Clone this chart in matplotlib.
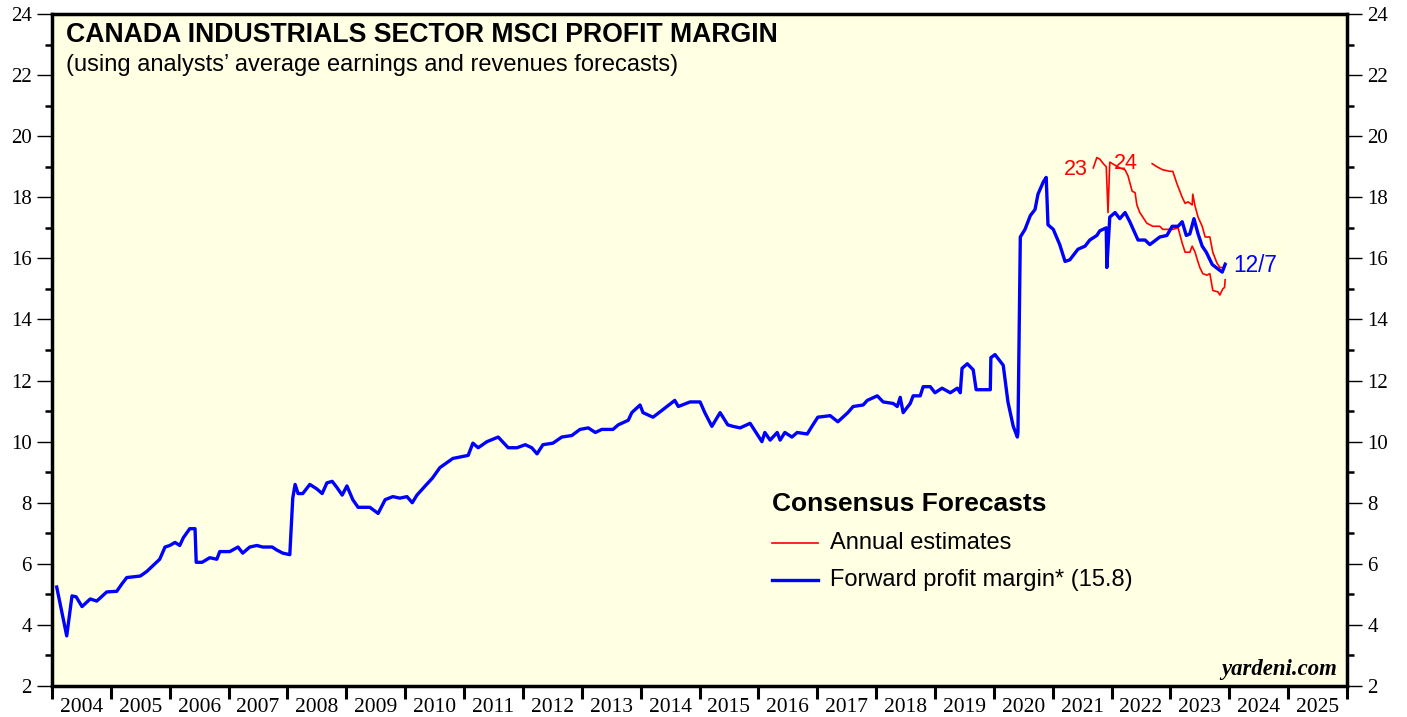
import matplotlib.pyplot as plt
import numpy as np

# Forward profit margin (weekly), decimal years
fwd_years = [2004.08, 2004.25, 2004.34, 2004.41, 2004.51, 2004.65, 2004.76, 2004.93, 2005.10, 2005.19,
             2005.27, 2005.50, 2005.61, 2005.83, 2005.92, 2006.00, 2006.09, 2006.17, 2006.23, 2006.34,
             2006.43, 2006.45, 2006.55, 2006.68, 2006.80, 2006.85, 2007.02, 2007.16, 2007.24, 2007.36,
             2007.48, 2007.58, 2007.74, 2007.82, 2007.92, 2008.04, 2008.09, 2008.13, 2008.18, 2008.26,
             2008.38, 2008.50, 2008.59, 2008.67, 2008.76, 2008.84, 2008.93, 2009.01, 2009.11, 2009.20,
             2009.40, 2009.54, 2009.66, 2009.79, 2009.91, 2010.03, 2010.12, 2010.20, 2010.34, 2010.46,
             2010.59, 2010.81, 2011.07, 2011.15, 2011.24, 2011.39, 2011.58, 2011.75, 2011.90, 2012.04,
             2012.15, 2012.24, 2012.34, 2012.51, 2012.66, 2012.83, 2012.97, 2013.11, 2013.23, 2013.34,
             2013.53, 2013.62, 2013.79, 2013.85, 2013.99, 2014.04, 2014.21, 2014.38, 2014.58, 2014.64,
             2014.84, 2015.01, 2015.09, 2015.21, 2015.35, 2015.48, 2015.57, 2015.69, 2015.86, 2016.06,
             2016.11, 2016.20, 2016.32, 2016.37, 2016.45, 2016.57, 2016.66, 2016.83, 2016.91, 2017.01,
             2017.22, 2017.35, 2017.52, 2017.61, 2017.78, 2017.85, 2018.02, 2018.12, 2018.29, 2018.36,
             2018.41, 2018.46, 2018.58, 2018.63, 2018.75, 2018.80, 2018.92, 2019.00, 2019.12, 2019.26,
             2019.38, 2019.43, 2019.46, 2019.55, 2019.65, 2019.70, 2019.82, 2019.94, 2019.95, 2020.02,
             2020.16, 2020.24, 2020.33, 2020.40, 2020.41, 2020.45, 2020.53, 2020.62, 2020.70, 2020.75,
             2020.84, 2020.89, 2020.92, 2021.01, 2021.12, 2021.21, 2021.29, 2021.43, 2021.55, 2021.63,
             2021.75, 2021.80, 2021.91, 2021.92, 2021.97, 2022.06, 2022.14, 2022.23, 2022.31, 2022.45,
             2022.57, 2022.65, 2022.82, 2022.94, 2023.03, 2023.13, 2023.20, 2023.27, 2023.33, 2023.40,
             2023.47, 2023.54, 2023.61, 2023.71, 2023.81, 2023.88, 2023.93]
fwd_margin = [5.24, 3.64, 4.95, 4.92, 4.6, 4.85, 4.78, 5.08, 5.1, 5.35,
              5.55, 5.6, 5.75, 6.15, 6.55, 6.6, 6.7, 6.6, 6.85, 7.15,
              7.15, 6.05, 6.05, 6.2, 6.15, 6.4, 6.4, 6.55, 6.35, 6.55,
              6.6, 6.55, 6.55, 6.45, 6.35, 6.3, 8.15, 8.6, 8.3, 8.3,
              8.6, 8.45, 8.3, 8.65, 8.7, 8.5, 8.25, 8.55, 8.1, 7.85,
              7.85, 7.65, 8.1, 8.2, 8.15, 8.2, 8.0, 8.25, 8.55, 8.8,
              9.15, 9.45, 9.55, 9.95, 9.8, 10.0, 10.15, 9.8, 9.8, 9.9,
              9.8, 9.6, 9.9, 9.95, 10.15, 10.2, 10.4, 10.45, 10.3, 10.4,
              10.4, 10.55, 10.7, 10.95, 11.2, 10.95, 10.8, 11.05, 11.35, 11.15,
              11.3, 11.3, 10.95, 10.5, 10.95, 10.55, 10.5, 10.45, 10.6, 10.0,
              10.3, 10.05, 10.3, 10.05, 10.3, 10.15, 10.3, 10.25, 10.5, 10.8,
              10.85, 10.65, 10.95, 11.15, 11.2, 11.35, 11.5, 11.3, 11.25, 11.15,
              11.45, 10.95, 11.25, 11.5, 11.5, 11.8, 11.8, 11.6, 11.75, 11.6,
              11.75, 11.6, 12.4, 12.55, 12.35, 11.7, 11.7, 11.7, 12.75, 12.85,
              12.5, 11.3, 10.5, 10.15, 10.3, 16.7, 16.95, 17.4, 17.6, 18.1,
              18.5, 18.65, 17.1, 16.95, 16.45, 15.9, 15.95, 16.3, 16.4, 16.6,
              16.75, 16.9, 17.0, 15.7, 17.35, 17.5, 17.3, 17.5, 17.2, 16.6,
              16.6, 16.45, 16.7, 16.75, 17.05, 17.05, 17.2, 16.75, 16.8, 17.3,
              16.8, 16.4, 16.2, 15.8, 15.65, 15.55, 15.8]

# Annual estimates for 2023
est23_years = [2021.69, 2021.75, 2021.80, 2021.86, 2021.91, 2021.94, 2021.97, 2022.06, 2022.14, 2022.23,
               2022.28, 2022.35, 2022.40, 2022.43, 2022.48, 2022.60, 2022.70, 2022.82, 2022.87, 2023.04,
               2023.13, 2023.20, 2023.25, 2023.33, 2023.37, 2023.42, 2023.45, 2023.50, 2023.55, 2023.62,
               2023.67, 2023.72, 2023.81, 2023.84, 2023.89, 2023.92, 2023.93]
est23 = [18.96, 19.3, 19.25, 19.1, 19.0, 17.5, 19.15, 19.05, 18.96, 18.9,
         18.7, 18.2, 18.15, 17.75, 17.5, 17.15, 17.05, 17.05, 16.95, 16.95,
         17.0, 16.5, 16.2, 16.2, 16.4, 16.2, 16.0, 15.7, 15.5, 15.45,
         15.5, 14.95, 14.9, 14.8, 15.0, 15.05, 15.3]

# Annual estimates for 2024
est24_years = [2022.69, 2022.77, 2022.87, 2022.99, 2023.04, 2023.11, 2023.20, 2023.25, 2023.30, 2023.37,
               2023.38, 2023.42, 2023.47, 2023.54, 2023.59, 2023.67, 2023.72, 2023.79, 2023.84, 2023.90,
               2023.93]
est24 = [19.1, 19.0, 18.9, 18.85, 18.85, 18.45, 18.0, 17.8, 17.85, 17.75,
         18.1, 17.7, 17.35, 17.05, 16.7, 16.7, 16.2, 15.85, 15.7, 15.7,
         15.85]

years = list(range(2004, 2026))

fig = plt.figure(figsize=(14.07, 7.17), dpi=100)
ax = fig.add_axes([52 / 1407, 31 / 717, 1295 / 1407, 672 / 717])
ax.set_facecolor('#ffffe3')

ax.plot(est23_years, est23, color='#ff0000', lw=1.2, zorder=2)
ax.plot(est24_years, est24, color='#ff0000', lw=1.2, zorder=2)
ax.plot(fwd_years, fwd_margin, color='#0000ff', lw=2.4, zorder=3)

ax.set_xlim(2004, 2026)
ax.set_ylim(2, 24)

serif = 'Liberation Serif'
sans = 'Liberation Sans'

# x axis: boundaries as major ticks, year labels centred between them
ax.set_xticks(years + [2026])
ax.set_xticklabels([])
ax.set_xticks([y + 0.5 for y in years], minor=True)
ax.set_xticklabels([str(y) for y in years], minor=True, fontfamily=serif, fontsize=15.5)
ax.tick_params(axis='x', which='major', direction='out', length=9, width=2.2, color='black')
ax.tick_params(axis='x', which='minor', length=0, pad=9)

# y axis on both sides
ax.set_yticks(np.arange(2, 25, 2))
ax.set_yticks(np.arange(3, 24, 2), minor=True)
ax.tick_params(axis='y', which='major', direction='out', length=11, width=1,
               left=True, right=True, labelleft=True, labelright=True, labelsize=15)
ax.tick_params(axis='y', which='minor', direction='out', length=5, width=1.8,
               left=True, right=True)
for lbl in ax.get_yticklabels():
    lbl.set_fontfamily(serif)

for s in ax.spines.values():
    s.set_linewidth(2.5)

ax.text(2004.24, 23.3, 'CANADA INDUSTRIALS SECTOR MSCI PROFIT MARGIN',
        fontfamily=sans, fontweight='bold', fontsize=19.2, va='center', ha='left')
ax.text(2004.24, 22.33, '(using analysts\u2019 average earnings and revenues forecasts)',
        fontfamily=sans, fontsize=17, va='center', ha='left')

ax.text(2021.59, 18.9, '23', color='#ff0000', fontfamily=sans, fontsize=15.5, ha='right', va='center')
ax.text(2022.04, 19.1, '24', color='#ff0000', fontfamily=sans, fontsize=15.5, ha='left', va='center')
ax.text(2024.06, 15.75, '12/7', color='#0000ff', fontfamily=sans, fontsize=16.3, ha='left', va='center')

# legend drawn manually
ax.text(2016.23, 7.96, 'Consensus Forecasts', fontfamily=sans, fontweight='bold', fontsize=19,
        ha='left', va='center')
ax.plot([2016.23, 2017.01], [6.68, 6.68], color='#ff0000', lw=1.2)
ax.text(2017.22, 6.68, 'Annual estimates', fontfamily=sans, fontsize=17, ha='left', va='center')
ax.plot([2016.23, 2017.01], [5.47, 5.47], color='#0000ff', lw=2.4)
ax.text(2017.22, 5.47, 'Forward profit margin* (15.8)', fontfamily=sans, fontsize=17, ha='left', va='center')

ax.text(2025.83, 2.53, 'yardeni.com', fontfamily=serif, fontweight='bold',
        fontstyle='italic', fontsize=16.4, ha='right', va='center')

fig.savefig('out.png', dpi=100)
